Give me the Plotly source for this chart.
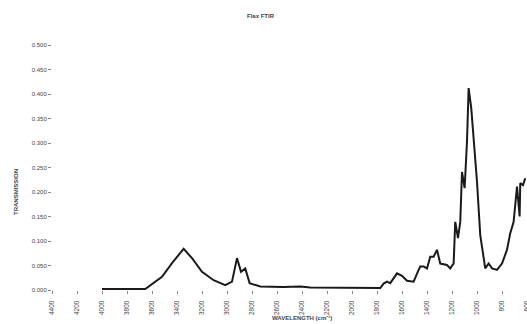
import plotly.graph_objects as go

# Wavenumber (cm^-1) and absorbance values
wavenumber = [4000, 3654, 3520, 3440, 3347, 3280, 3200, 3107, 3014, 2960, 2920, 2888,
              2854, 2819, 2734, 2550, 2414, 2334, 1774, 1747, 1720, 1694, 1640, 1600,
              1560, 1507, 1467, 1454, 1427, 1400, 1374, 1347, 1320, 1294, 1240, 1214,
              1187, 1174, 1152, 1134, 1120, 1099, 1080, 1067, 1046, 1035, 1000, 974,
              947, 934, 907, 880, 840, 800, 760, 734, 707, 680, 659, 654, 632, 614]
absorbance = [0.002, 0.002, 0.027, 0.055, 0.084, 0.065, 0.037, 0.020, 0.010, 0.017, 0.065, 0.037,
              0.044, 0.014, 0.007, 0.006, 0.007, 0.005, 0.004, 0.013, 0.017, 0.014, 0.034, 0.029,
              0.019, 0.017, 0.041, 0.048, 0.048, 0.044, 0.068, 0.068, 0.082, 0.054, 0.051, 0.044,
              0.054, 0.139, 0.106, 0.139, 0.241, 0.208, 0.303, 0.412, 0.371, 0.337, 0.221, 0.112,
              0.058, 0.044, 0.054, 0.044, 0.041, 0.054, 0.082, 0.116, 0.139, 0.211, 0.150, 0.218,
              0.214, 0.228]

x_ticks = list(range(4400, 599, -200))
y_ticks = [0.0, 0.05, 0.10, 0.15, 0.20, 0.25, 0.30, 0.35, 0.40, 0.45, 0.50]
y_tick_text = [f"{v:.3f}" for v in y_ticks]

title_text = "Flax FTIR"
x_title = "WAVELENGTH (cm⁻¹)"
y_title = "TRANSMISSION"

font_family = "Liberation Sans, Arial, sans-serif"
text_color = "#444444"

fig = go.Figure()
fig.add_trace(go.Scatter(
    x=wavenumber, y=absorbance, mode="lines",
    line=dict(color="#1a1a1a", width=2),
    showlegend=False, hoverinfo="skip", cliponaxis=False,
))

fig.update_layout(
    width=527, height=324,
    margin=dict(l=52, r=0, t=45, b=34, autoexpand=False),
    paper_bgcolor="white", plot_bgcolor="white",
    font=dict(family=font_family, size=6, color=text_color),
    showlegend=False,
    annotations=[
        dict(text=f"<b>{title_text}</b>", xref="paper", yref="paper",
             x=(261 - 52) / 475, y=(290 - 16) / 245, showarrow=False,
             xanchor="center", yanchor="middle",
             font=dict(size=6, color=text_color, family=font_family)),
        dict(text=f"<b>{x_title}</b>", xref="paper", yref="paper",
             x=(302 - 52) / 475, y=(290 - 318) / 245, showarrow=False,
             xanchor="center", yanchor="middle",
             font=dict(size=6, color=text_color, family=font_family)),
        dict(text=f"<b>{y_title}</b>", xref="paper", yref="paper",
             x=(16 - 52) / 475, y=(290 - 192) / 245, showarrow=False,
             textangle=-90, xanchor="center", yanchor="middle",
             font=dict(size=6, color=text_color, family=font_family)),
    ],
)

fig.update_xaxes(
    range=[4400, 600], tickmode="array", tickvals=x_ticks,
    ticktext=[str(v) for v in x_ticks], tickangle=-90,
    showgrid=False, zeroline=False, showline=False, automargin=False,
    ticks="outside", ticklen=3, tickcolor="#888888",
    ticklabelstandoff=4, ticklabeloverflow="allow",
    tickfont=dict(size=6.5, color=text_color),
)
fig.update_yaxes(
    range=[0, 0.5], tickmode="array", tickvals=y_ticks, ticktext=y_tick_text,
    showgrid=False, zeroline=False, showline=False, automargin=False,
    ticks="outside", ticklen=3, tickcolor="#888888",
    tickfont=dict(size=6, color=text_color),
)

fig.write_html(
    "out.html",
    config={"displayModeBar": False, "staticPlot": True},
    post_script="document.body.style.margin='0px';document.body.style.overflow='hidden';",
)
